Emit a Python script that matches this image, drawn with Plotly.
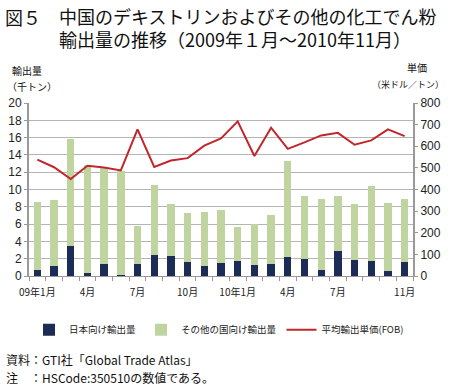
import plotly.graph_objects as go

months = ["2009-01","2009-02","2009-03","2009-04","2009-05","2009-06","2009-07","2009-08","2009-09","2009-10","2009-11","2009-12",
          "2010-01","2010-02","2010-03","2010-04","2010-05","2010-06","2010-07","2010-08","2010-09","2010-10","2010-11"]
tick_labels = ["09年1月","","","4月","","","7月","","","10月","","",
               "10年1月","","","4月","","","7月","","","","11月"]
totals = [8.5, 8.8, 15.85, 12.8, 12.5, 12.15, 5.8, 10.5, 8.35, 7.3, 7.4, 7.6,
          5.65, 6.0, 7.1, 13.25, 9.3, 8.9, 9.2, 8.35, 10.4, 8.4, 8.9]
japan = [0.7, 1.2, 3.45, 0.4, 1.4, 0.1, 1.35, 2.4, 2.35, 1.6, 1.2, 1.5,
         1.7, 1.25, 1.35, 2.15, 2.0, 0.7, 2.85, 1.85, 1.75, 0.6, 1.6]
others = [round(t - j, 2) for t, j in zip(totals, japan)]
price = [538, 503, 448, 510, 502, 488, 678, 504, 534, 545, 603, 636,
         715, 555, 686, 588, 618, 650, 662, 607, 627, 678, 647]

FONT = "Noto Sans CJK JP, Noto Sans, sans-serif"
NUMFONT = "Liberation Sans, Arial, sans-serif"
navy = "#1d2b57"
green = "#bfd49f"
red = "#c1262b"
grid = "#b4b4b4"

fig = go.Figure()
fig.add_trace(go.Bar(x=months, y=japan, name="日本向け輸出量", marker_color=navy,
                     marker_line_width=0))
fig.add_trace(go.Bar(x=months, y=others, name="その他の国向け輸出量", marker_color=green,
                     marker_line_width=0))
fig.add_trace(go.Scatter(x=months, y=price, name="平均輸出単価(FOB)", mode="lines",
                         line=dict(color=red, width=2), yaxis="y2"))

fig.update_layout(
    width=450, height=391,
    margin=dict(l=29, r=37, t=103, b=115, autoexpand=False),
    paper_bgcolor="white", plot_bgcolor="white",
    barmode="stack", bargap=0.56,
    font=dict(family=FONT, color="#222", size=11),
    showlegend=True,
    legend=dict(orientation="h", x=0.0, xanchor="left", y=-0.31, yanchor="middle",
                traceorder="normal", font=dict(size=9.5, color="#222"),
                itemwidth=30, tracegroupgap=0, bgcolor="rgba(0,0,0,0)"),
    xaxis=dict(type="category", tickmode="array", tickvals=months, ticktext=tick_labels,
               tickson="boundaries", ticks="outside", ticklen=4, tickcolor="#999",
               showline=True, linecolor="#999", linewidth=1, showgrid=False,
               tickfont=dict(size=10, color="#222"), tickangle=0, ticklabelstandoff=7),
    yaxis=dict(range=[0, 20], dtick=2, showgrid=True, gridcolor=grid, gridwidth=1,
               showline=True, linecolor="#999", linewidth=2, ticks="outside", ticklen=3,
               tickcolor="#999", tickfont=dict(size=12, color="#222", family=NUMFONT),
               zeroline=False),
    yaxis2=dict(range=[0, 800], dtick=100, overlaying="y", side="right", showgrid=False,
                showline=True, linecolor="#999", linewidth=2, ticks="outside", ticklen=3,
                tickcolor="#999", tickfont=dict(size=12, color="#222", family=NUMFONT),
                zeroline=False),
)

def px(x):
    return (x - 29) / 384

def py(y):
    return (276 - y) / 173

fig.add_annotation(text="図５", xref="paper", yref="paper", x=px(3), y=py(17),
                   xanchor="left", yanchor="middle", showarrow=False,
                   font=dict(size=18, color="#111", family=FONT))
fig.add_annotation(text="中国のデキストリンおよびその他の化工でん粉<br>輸出量の推移（2009年１月～2010年11月）",
                   xref="paper", yref="paper", x=px(57), y=py(27.5), align="left",
                   xanchor="left", yanchor="middle", showarrow=False,
                   font=dict(size=18, color="#111", family=FONT))

small = [
    dict(text="輸出量", x=10, y=70, size=10, anchor="left"),
    dict(text="（千トン）", x=5, y=86, size=10, anchor="left"),
    dict(text="単価", x=405, y=68, size=10, anchor="left"),
    dict(text="（米ドル／トン）", x=446, y=84, size=9, anchor="right"),
    dict(text="資料：GTI社「Global Trade Atlas」", x=4, y=359, size=12, anchor="left"),
    dict(text="注　：HSCode:350510の数値である。", x=4, y=377, size=12, anchor="left"),
]
for a in small:
    fig.add_annotation(text=a["text"], xref="paper", yref="paper",
                       x=px(a["x"]), y=py(a["y"]),
                       xanchor=a["anchor"], yanchor="middle", showarrow=False,
                       font=dict(size=a["size"], color="#111", family=FONT))

fig.write_html("out.html", config={"displayModeBar": False},
               post_script="document.body.style.margin='0px';")
